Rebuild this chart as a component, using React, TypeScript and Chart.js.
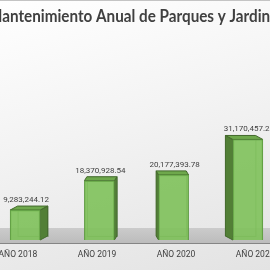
import React, { useEffect, useRef } from "react";
import { Chart, registerables } from "chart.js";

Chart.register(...registerables);

const categories = ["AÑO 2018", "AÑO 2019", "AÑO 2020", "AÑO 2021"];
const values = [9283244.12, 18370928.54, 20177393.78, 31170457.25];
const titleText = "Mantenimiento Anual de Parques y Jardines";
const yMax = 62000000;

const fmt = (v: number) =>
  v.toLocaleString("en-US", { minimumFractionDigits: 2, maximumFractionDigits: 2 });

const DEPTH_Y = -4;
const PERSPECTIVE = 0.067;
const LABEL_SPREAD = 1.065;

const threeD = {
  id: "threeD",
  beforeDatasetsDraw(chart: any) {
    const { ctx, chartArea } = chart;
    const cx = (chartArea.left + chartArea.right) / 2;
    const floorTop = chartArea.bottom - 12;
    const floorBottom = chartArea.bottom + 3;
    ctx.save();
    const g = ctx.createLinearGradient(0, floorTop, 0, floorBottom);
    g.addColorStop(0, "#cbcbcb");
    g.addColorStop(1, "#bcbcbc");
    ctx.fillStyle = g;
    ctx.fillRect(0, floorTop, chart.width, floorBottom - floorTop);
    ctx.strokeStyle = "#858585";
    ctx.lineWidth = 1;
    ctx.beginPath();
    ctx.moveTo(0, floorBottom + 0.5);
    ctx.lineTo(chart.width, floorBottom + 0.5);
    ctx.stroke();

    const meta = chart.getDatasetMeta(0);
    meta.data.forEach((bar: any) => {
      const { x, y, base, width } = bar;
      const xl = x - width / 2;
      const xr = x + width / 2;
      const dx = -(x - cx) * PERSPECTIVE;
      const dy = DEPTH_Y;
      ctx.strokeStyle = "rgba(60,100,40,0.55)";
      ctx.strokeRect(xl + dx + 0.5, y + dy + 0.5, width, base - y);
      const sx = dx >= 0 ? xr : xl;
      ctx.fillStyle = "#527f36";
      ctx.beginPath();
      ctx.moveTo(sx, y);
      ctx.lineTo(sx + dx, y + dy);
      ctx.lineTo(sx + dx, base + dy);
      ctx.lineTo(sx, base);
      ctx.closePath();
      ctx.fill();
      ctx.strokeStyle = "#43692c";
      ctx.stroke();
      ctx.fillStyle = "#6ea84c";
      ctx.beginPath();
      ctx.moveTo(xl, y);
      ctx.lineTo(xr, y);
      ctx.lineTo(xr + dx, y + dy);
      ctx.lineTo(xl + dx, y + dy);
      ctx.closePath();
      ctx.fill();
      ctx.stroke();
    });
    ctx.restore();
  },
  afterDatasetsDraw(chart: any) {
    const { ctx, chartArea } = chart;
    const cx = (chartArea.left + chartArea.right) / 2;
    const meta = chart.getDatasetMeta(0);
    ctx.save();
    ctx.fillStyle = "#404040";
    ctx.textAlign = "center";
    ctx.textBaseline = "middle";
    meta.data.forEach((bar: any, i: number) => {
      ctx.font = "8px Roboto";
      ctx.fillText(fmt(values[i]), bar.x + 1, bar.y - 10);
      ctx.font = "8.5px Roboto";
      ctx.fillText(categories[i], cx + (bar.x - cx) * LABEL_SPREAD, chartArea.bottom + 15);
    });
    ctx.restore();
  },
};

export default function App() {
  const ref = useRef<HTMLCanvasElement>(null);
  useEffect(() => {
    if (!ref.current) return;
    const chart = new Chart(ref.current, {
      type: "bar",
      data: {
        labels: categories,
        datasets: [
          {
            data: values,
            backgroundColor: "rgba(126,193,90,0.9)",
            borderColor: "#5e9a42",
            borderWidth: 1,
            barThickness: 30,
          },
        ],
      },
      options: {
        responsive: false,
        animation: false,
        layout: { padding: { left: 13, right: 10, top: 7, bottom: 30 } },
        plugins: {
          legend: { display: false },
          tooltip: { enabled: false },
          title: {
            display: true,
            text: titleText,
            color: "#404040",
            font: { family: "Lato", weight: "bold", size: 16.6, lineHeight: 1.2 },
            padding: { top: 0, bottom: 13.1 },
          },
        },
        scales: {
          x: { display: false, offset: true },
          y: { display: false, min: 0, max: yMax },
        },
      },
      plugins: [threeD],
    });
    return () => chart.destroy();
  }, []);
  return (
    <div
      style={{
        position: "fixed",
        left: 0,
        top: 0,
        width: 270,
        height: 270,
        overflow: "hidden",
        boxSizing: "border-box",
        borderTop: "1px solid #c4c4c4",
        background: "linear-gradient(165deg, #ffffff 0%, #f3f3f3 45%, #e3e3e3 100%)",
      }}
    >
      <canvas
        ref={ref}
        width={320}
        height={270}
        style={{ position: "absolute", left: -25, top: -1, width: 320, height: 270 }}
      />
    </div>
  );
}
